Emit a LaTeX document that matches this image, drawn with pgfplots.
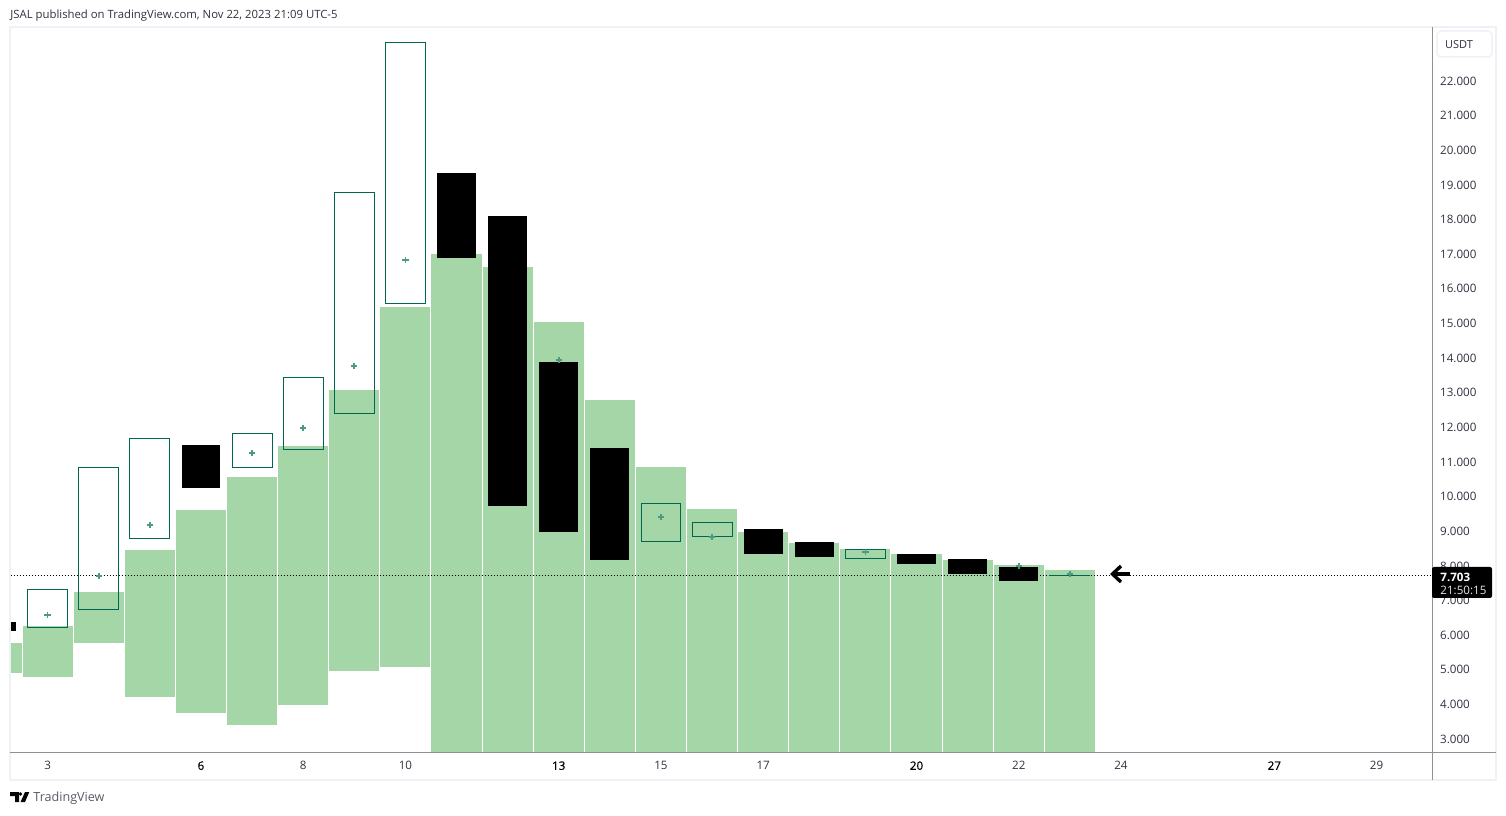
\documentclass[border=0pt]{standalone}
\usepackage{pgfplots}
\pgfplotsset{compat=1.18}
\usepackage{fontspec}
\setmainfont{Open Sans}
\definecolor{volgreen}{HTML}{A5D6A7}
\definecolor{tvgreen}{HTML}{00664F}
\definecolor{plusgreen}{HTML}{4C9A80}
\definecolor{framec}{HTML}{EFF1F6}
\definecolor{axisc}{HTML}{8E9094}
\definecolor{labelc}{HTML}{2F3240}
\newcommand{\semi}[1]{{\addfontfeature{FakeBold=0.5}\textcolor{black}{#1}}}
\newcommand{\pbox}[5]{% center, lo, hi, halfwidth, style
  \pgfmathsetmacro{\xa}{#1-#4}\pgfmathsetmacro{\xb}{#1+#4}%
  \addplot[#5] coordinates {(\xa,#2)(\xb,#2)(\xb,#3)(\xa,#3)} -- cycle;
}
\newcommand{\gbar}[3]{\pbox{#1}{#2}{#3}{0.49}{draw=none,fill=volgreen,forget plot}}
\newcommand{\ubar}[3]{\pbox{#1}{#2}{#3}{0.39}{draw=tvgreen,line width=0.45pt,fill=none,forget plot}}
\newcommand{\kbar}[3]{\pbox{#1}{#2}{#3}{0.38}{draw=none,fill=black,forget plot}}
\begin{document}
\begin{tikzpicture}
\path[use as bounding box] (0,0) rectangle (753pt,407.5pt);
\begin{axis}[
  at={(5.25pt,31.5pt)},anchor=south west,scale only axis,
  width=710.75pt,height=362.5pt,
  xmin=2.274,xmax=30.085,ymin=2.609,ymax=23.545,
  axis line style={draw=none},
  major tick length=0pt,
  xtick={3,6,8,10,13,15,17,20,22,24,27,29},
  xticklabels={3,\semi{6},8,10,\semi{13},15,17,\semi{20},22,24,\semi{27},29},
  ytick={3,4,5,6,7,8,9,10,11,12,13,14,15,16,17,18,19,20,21,22},
  yticklabels={3.000,4.000,5.000,6.000,7.000,8.000,9.000,10.000,11.000,12.000,13.000,14.000,15.000,16.000,17.000,18.000,19.000,20.000,21.000,22.000},
  yticklabel pos=right,
  ticklabel style={font=\fontsize{5.8pt}{7pt}\selectfont,text=labelc,inner sep=0pt},
  xticklabel shift=4.5pt,
  yticklabel shift=3.9pt,
  yticklabel style={yshift=-0.3pt},
]
% green profile bars: day, low, high
\gbar{2}{4.891}{5.757}
\gbar{3}{4.775}{6.248}
\gbar{4}{5.757}{7.230}
\gbar{5}{4.198}{8.442}
\gbar{6}{3.736}{9.597}
\gbar{7}{3.389}{10.550}
\gbar{8}{3.967}{11.446}
\gbar{9}{4.948}{13.063}
\gbar{10}{5.064}{15.459}
\gbar{11}{2.609}{16.990}
\gbar{12}{2.609}{16.615}
\gbar{13}{2.609}{15.026}
\gbar{14}{2.609}{12.774}
\gbar{15}{2.609}{10.839}
\gbar{16}{2.609}{9.626}
\gbar{17}{2.609}{8.962}
\gbar{18}{2.609}{8.645}
\gbar{19}{2.609}{8.471}
\gbar{20}{2.609}{8.327}
\gbar{21}{2.609}{8.154}
\gbar{22}{2.609}{8.009}
\gbar{23}{2.609}{7.865}
% last price line
\addplot[black,line width=0.5pt,dash pattern=on 0.5pt off 1pt,forget plot] coordinates {(2.274,7.703)(30.085,7.703)};
% hollow (up) candles
\ubar{3}{6.219}{7.316}
\ubar{4}{6.739}{10.839}
\ubar{5}{8.789}{11.677}
\ubar{7}{10.839}{11.821}
\ubar{8}{11.359}{13.438}
\ubar{9}{12.398}{18.780}
\ubar{10}{15.575}{23.112}
\ubar{15}{8.702}{9.800}
\ubar{16}{8.847}{9.251}
\ubar{19}{8.212}{8.471}
\ubar{23}{7.700}{7.721}
% black (down) candles
\kbar{2}{6.104}{6.363}
\kbar{6}{10.233}{11.474}
\kbar{11}{16.874}{19.329}
\kbar{12}{9.713}{18.087}
\kbar{13}{8.962}{13.871}
\kbar{14}{8.154}{11.388}
\kbar{17}{8.327}{9.049}
\kbar{18}{8.240}{8.673}
\kbar{20}{8.038}{8.327}
\kbar{21}{7.749}{8.183}
\kbar{22}{7.547}{7.951}
% plus marks
\addplot[only marks,mark=+,mark size=1.6pt,mark options={draw=plusgreen,line width=0.85pt}] coordinates {
(3,6.565)(4,7.692)(5,9.164)(7,11.243)(8,11.965)(9,13.756)(10,16.817)(13,13.929)(15,9.395)(16,8.818)(19,8.385)(22,7.981)(23,7.749)};
\end{axis}
\begin{scope}[x=0.5pt,y=-0.5pt,yshift=407.5pt]
% frame and axis lines
\draw[framec,line width=1pt] (10,27) rectangle (1496,780);
\draw[axisc,line width=0.5pt] (10,752.5) -- (1496,752.5);
\draw[axisc,line width=0.5pt] (1432.5,27) -- (1432.5,780);
% currency box
\draw[framec,line width=0.75pt,rounded corners=2pt,fill=white] (1437,31) rectangle (1492,57);
\node[font=\fontsize{5.5pt}{7pt}\selectfont,text=labelc,inner sep=0pt] at (1459,44.5) {USDT};
% price label
\fill[black,rounded corners=1pt] (1432,567) rectangle (1492,598);
\node[font=\fontsize{5.8pt}{7pt}\selectfont\bfseries,text=white,inner sep=0pt,anchor=west] at (1440,577) {7.703};
\node[font=\fontsize{5.8pt}{7pt}\selectfont,text=white!90!black,inner sep=0pt,anchor=west] at (1440,590) {21:50:15};
% arrow annotation
\draw[black,line width=1.7pt] (1130,574) -- (1113,574);
\draw[black,line width=1.7pt,miter limit=3] (1121,566) -- (1112.5,574) -- (1121,582);
% header
\node[font=\fontsize{5.67pt}{7pt}\selectfont,text=labelc,inner sep=0pt,anchor=west] at (10,16) {JSAL published on TradingView.com, Nov 22, 2023 21:09 UTC-5};
% footer logo
\fill[black!85!labelc] (10,792) -- (19,792) -- (19,802) -- (15,802) -- (15,796) -- (10,796) -- cycle;
\fill[black!85!labelc] (20.5,794) circle (1.9);
\fill[black!85!labelc] (25,792) -- (29.3,792) -- (25,802) -- (20.5,802) -- cycle;
\node[font=\fontsize{6.3pt}{8pt}\selectfont,text=labelc!80!white,inner sep=0pt,anchor=west] at (33,798) {TradingView};
\end{scope}
\end{tikzpicture}
\end{document}
